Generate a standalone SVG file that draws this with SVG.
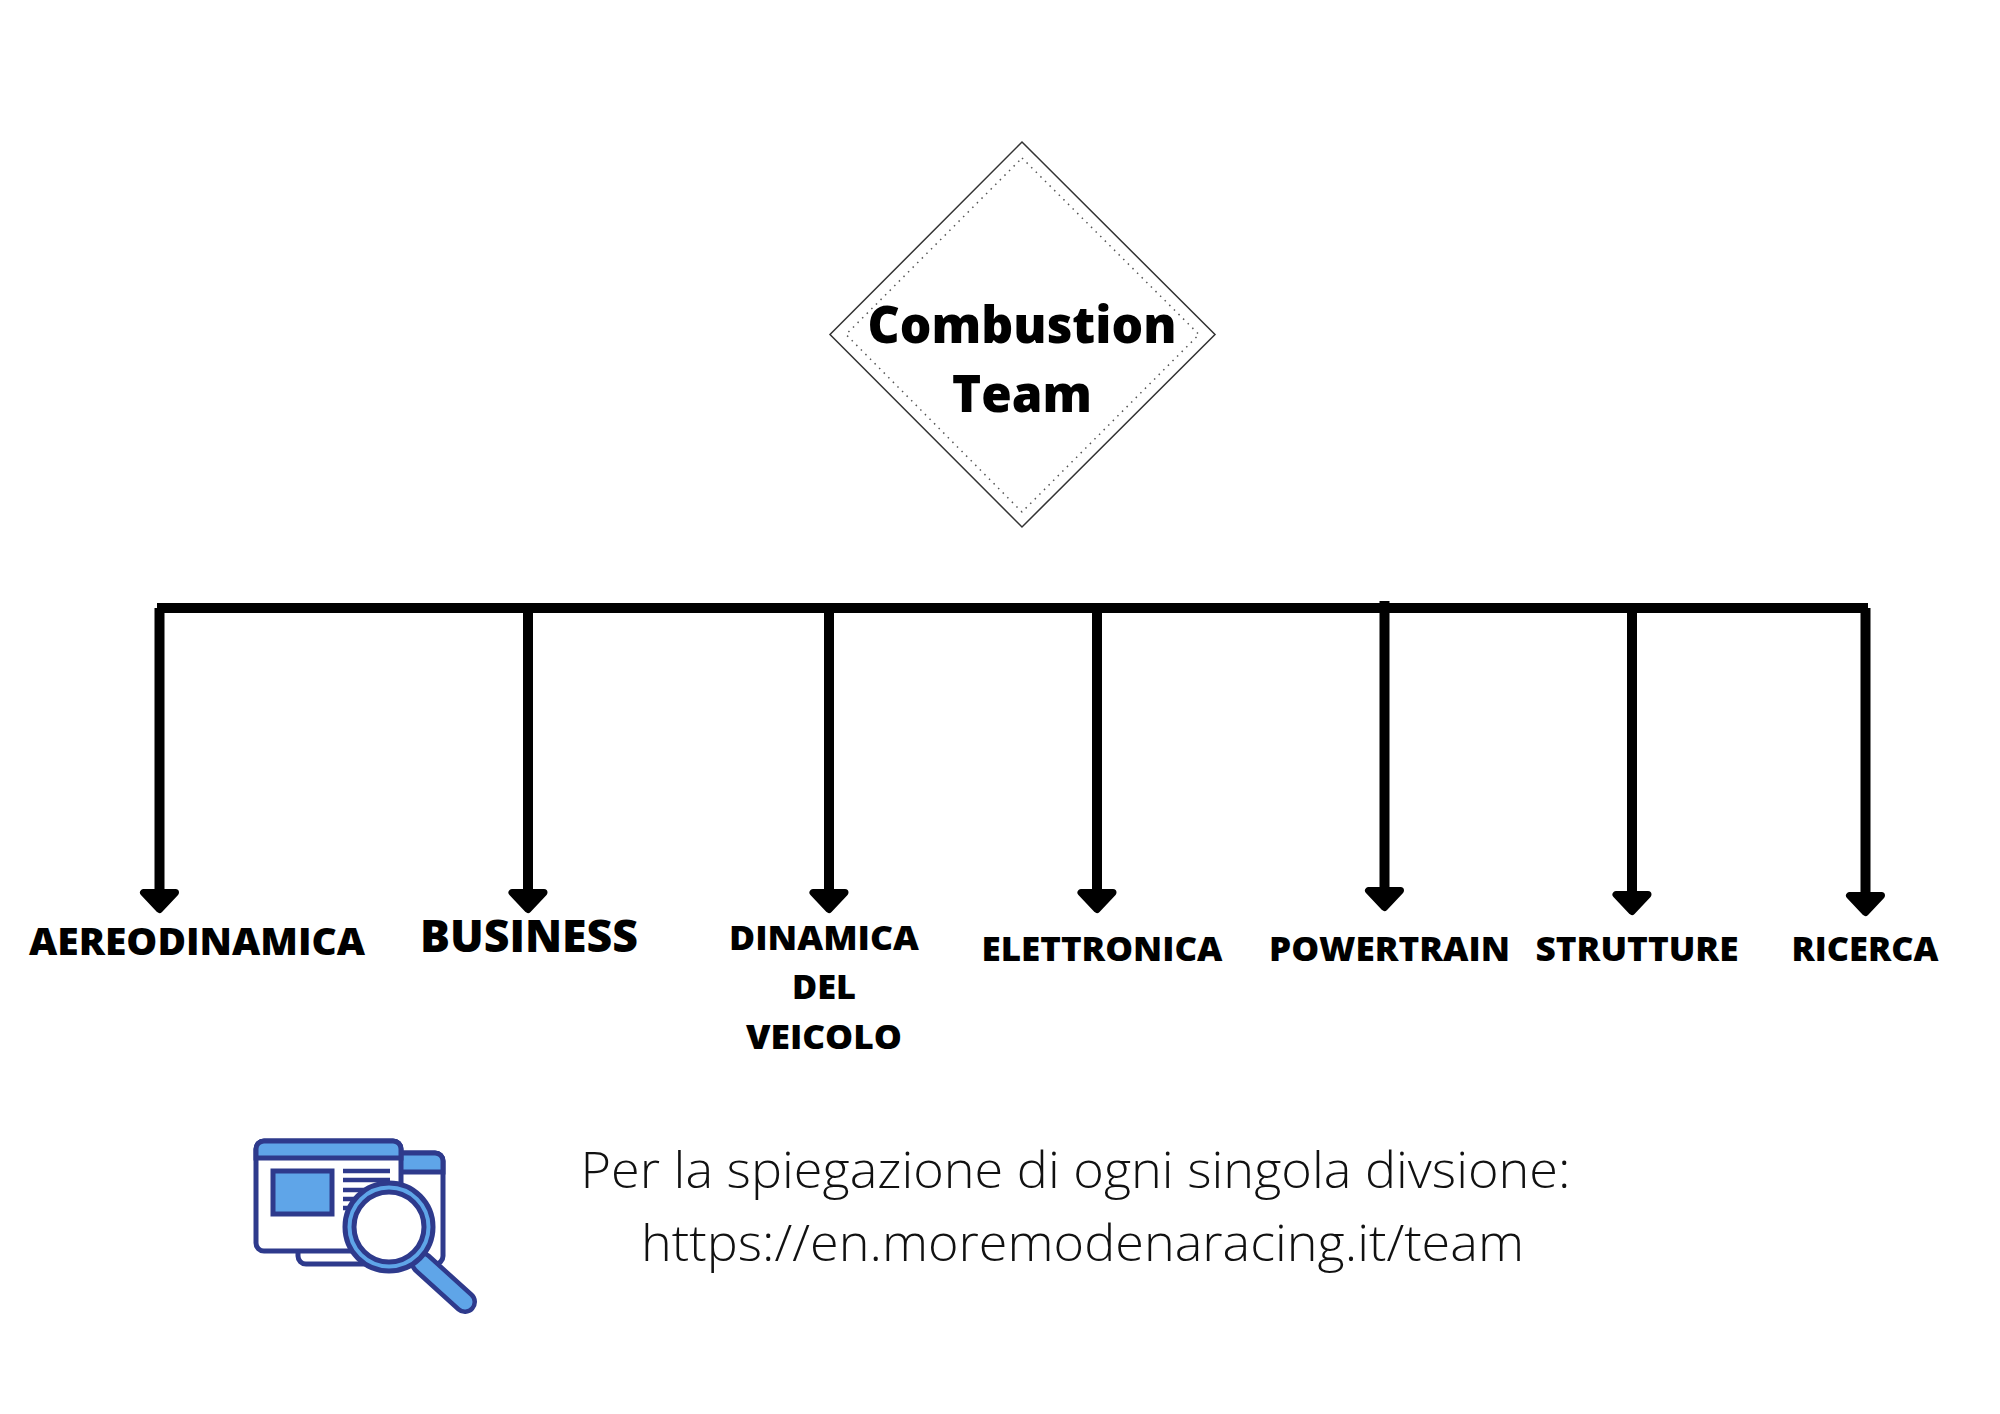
<svg xmlns="http://www.w3.org/2000/svg" width="2000" height="1414" viewBox="0 0 2000 1414">
<style>
.lbl{font-family:"Open Sans","Liberation Sans",sans-serif;font-weight:800;fill:#000;text-anchor:middle;font-size:37px}
.title{font-size:52px}
.note{font-family:"Open Sans","Liberation Sans",sans-serif;font-weight:300;fill:#111;text-anchor:middle;font-size:50px}
.conn{stroke:#000;stroke-width:10;fill:none}
.icf{fill:#5fa5e8;stroke:#2e3a8c;stroke-width:5}
.icw{fill:#fff;stroke:#2e3a8c;stroke-width:5}
.icl{stroke:#2e3a8c;stroke-width:4.5;fill:none}
</style>
<defs>
<marker id="ah" markerUnits="userSpaceOnUse" viewBox="-5 -22 32 44" markerWidth="32" markerHeight="44" refX="0" refY="0" orient="auto">
<path d="M0,-16 L17,0 L0,16 Z" fill="#000" stroke="#000" stroke-width="7" stroke-linejoin="round"/>
</marker>
</defs>
<rect width="2000" height="1414" fill="#fff"/>
<g id="root">
<polygon points="1022,142 1215,334.500 1022,527 830,334.500" fill="#fff" stroke="#333" stroke-width="1.500"/>
<polygon points="1022,158 1199,334.500 1022,512 846,334.500" fill="none" stroke="#555" stroke-width="1.500" stroke-dasharray="1.500 5"/>
<text class="lbl title" x="1022" y="343" textLength="309" lengthAdjust="spacingAndGlyphs">Combustion</text>
<text class="lbl title" x="1022" y="412" textLength="140" lengthAdjust="spacingAndGlyphs">Team</text>
</g>
<g id="connectors">
<path class="conn" d="M157,608H1868"/>
<path class="conn" marker-end="url(#ah)" d="M159.500,608V892.500"/>
<path class="conn" marker-end="url(#ah)" d="M528,608V892.500"/>
<path class="conn" marker-end="url(#ah)" d="M829,608V892.500"/>
<path class="conn" marker-end="url(#ah)" d="M1097,608V892.500"/>
<path class="conn" marker-end="url(#ah)" d="M1384.500,601V890.500"/>
<path class="conn" marker-end="url(#ah)" d="M1632,608V894.500"/>
<path class="conn" marker-end="url(#ah)" d="M1865.500,608V895.500"/>
</g>
<g id="aereodinamica"><text class="lbl" x="197" y="955" textLength="336" lengthAdjust="spacingAndGlyphs">AEREODINAMICA</text></g>
<g id="business"><text class="lbl" style="font-size:44px" x="529" y="952" textLength="218" lengthAdjust="spacingAndGlyphs">BUSINESS</text></g>
<g id="dinamica">
<text class="lbl" style="font-size:34px" x="824" y="950" textLength="190" lengthAdjust="spacingAndGlyphs">DINAMICA</text>
<text class="lbl" style="font-size:34px" x="824" y="999" textLength="64" lengthAdjust="spacingAndGlyphs">DEL</text>
<text class="lbl" style="font-size:34px" x="824" y="1049" textLength="156" lengthAdjust="spacingAndGlyphs">VEICOLO</text>
</g>
<g id="elettronica"><text class="lbl" style="font-size:34px" x="1102" y="961" textLength="241" lengthAdjust="spacingAndGlyphs">ELETTRONICA</text></g>
<g id="powertrain"><text class="lbl" style="font-size:34px" x="1389.500" y="961" textLength="241" lengthAdjust="spacingAndGlyphs">POWERTRAIN</text></g>
<g id="strutture"><text class="lbl" style="font-size:34px" x="1637" y="961" textLength="203" lengthAdjust="spacingAndGlyphs">STRUTTURE</text></g>
<g id="ricerca"><text class="lbl" style="font-size:34px" x="1865" y="961" textLength="147" lengthAdjust="spacingAndGlyphs">RICERCA</text></g>
<g id="note">
<text class="note" x="1075.500" y="1187.500" textLength="990" lengthAdjust="spacingAndGlyphs">Per la spiegazione di ogni singola divsione:</text>
<text class="note" x="1082.500" y="1260.500" textLength="883" lengthAdjust="spacingAndGlyphs">https://en.moremodenaracing.it/team</text>
</g>
<g id="icon">
<rect class="icw" x="298" y="1153" width="145" height="111" rx="8"/>
<path class="icf" d="M300,1172V1161a8,8 0 0 1 8,-8H435a8,8 0 0 1 8,8V1172Z"/>
<rect class="icw" x="256" y="1141" width="145" height="110" rx="8"/>
<path class="icf" d="M256,1158V1149a8,8 0 0 1 8,-8H393a8,8 0 0 1 8,8V1158Z"/>
<rect class="icf" x="273" y="1171" width="59" height="43"/>
<path class="icl" d="M343,1171H390M343,1180H390M343,1190H390M343,1199H390M343,1208H390"/>
<path d="M422,1263L465,1302" stroke="#2e3a8c" stroke-width="24" stroke-linecap="round"/>
<path d="M422,1263L465,1302" stroke="#5fa5e8" stroke-width="15" stroke-linecap="round"/>
<circle cx="389" cy="1227" r="44" fill="#5fa5e8" stroke="#2e3a8c" stroke-width="5"/>
<circle cx="389" cy="1227" r="35" fill="#fff" stroke="#2e3a8c" stroke-width="5"/>
</g>
</svg>
